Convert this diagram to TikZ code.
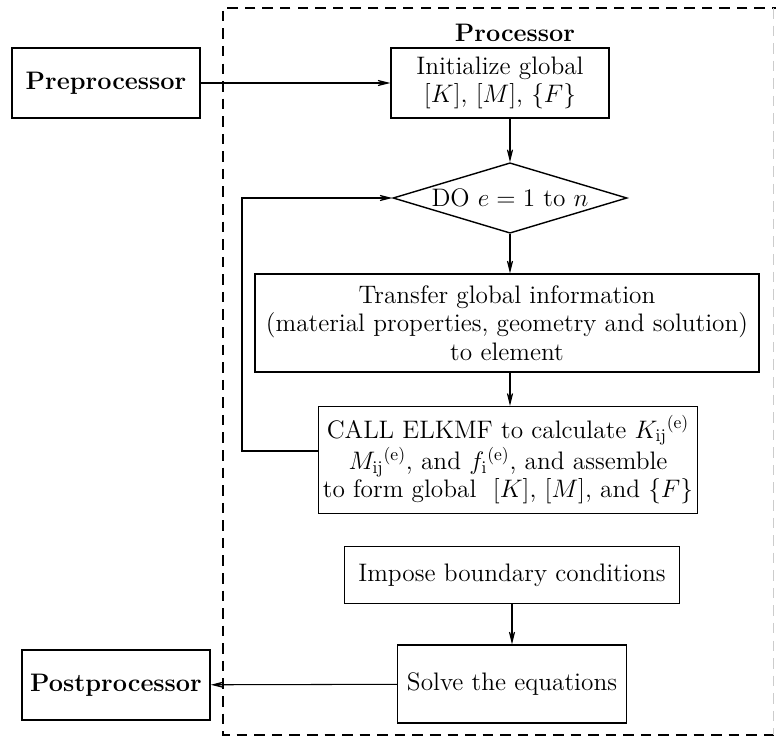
\documentclass[tikz,border=0pt]{standalone}
\usepackage{amsmath,amssymb}
\usepackage{tikz}
\usetikzlibrary{shapes.geometric,arrows.meta,positioning,calc}

\begin{document}
\fontsize{14.4}{16.2}\selectfont
\begin{tikzpicture}[
    x=0.02cm, y=-0.02cm,
    block/.style={rectangle, draw, line width=0.8pt, align=center, inner sep=2pt},
    decision/.style={diamond, draw, line width=0.8pt, aspect=3.3, inner sep=1pt, minimum width=4.68cm, minimum height=1.4cm},
    arrow/.style={-{Stealth[length=12pt, width=6pt, inset=8pt]}, line width=0.6pt},
    boundary/.style={line width=1.1pt, dash pattern=on 6pt off 4pt}
]
\clip (0,0) rectangle (776,741);

% Processor boundary (right side faint, as in the scan)
\draw[boundary] (800,8) -- (223,8) -- (223,735) -- (800,735);
\draw[boundary, line width=0.5pt, gray!40] (773,8) -- (773,735);
\node[font=\bfseries] (proclabel) at (515,33) {Processor};

% Pre- and postprocessor
\node[block, font=\bfseries, minimum width=3.76cm, minimum height=1.4cm] (pre) at (106,83) {Preprocessor};
\node[block, font=\bfseries, minimum width=3.76cm, minimum height=1.4cm] (post) at (116,685) {Postprocessor};

% Processor steps
\node[block, minimum width=4.36cm, minimum height=1.4cm] (init) at (500,83) {Initialize global\\$[K]$, $[M]$, $\{F\}$};
\node[decision] (do) at (510,198) {DO $e = 1$ to $n$};
\node[block, minimum width=10.08cm, minimum height=1.96cm] (transfer) at (507,323)
    {Transfer global information\\(material properties, geometry and solution)\\to element};
\node[block, minimum width=7.58cm, minimum height=2.14cm] (call) at (508,460)
    {CALL ELKMF to calculate $K_{\mathrm{ij}}{}^{(\mathrm{e})}$\\
     $M_{\mathrm{ij}}{}^{(\mathrm{e})}$, and $f_{\mathrm{i}}{}^{(\mathrm{e})}$, and assemble\\
     to form global\ \ $[K]$, $[M]$, and $\{F\}$};
\node[block, minimum width=6.7cm, minimum height=1.14cm] (impose) at (512,575) {Impose boundary conditions};
\node[block, minimum width=4.58cm, minimum height=1.56cm] (solve) at (512,684) {Solve the equations};

% Connections
\draw[arrow] (pre) -- (init);
\draw[arrow] (init.south -| do.north) -- (do.north);
\draw[arrow] (do) -- (do.south |- transfer.north);
\draw[arrow] (transfer.south -| do.south) -- (call.north -| do.south);
\coordinate (bend) at (242,451);
\draw[arrow] (call.west |- bend) -- (bend) |- (do.west);
\draw[arrow] (impose) -- (solve);
\draw[arrow] (solve) -- (post);

\end{tikzpicture}
\end{document}
